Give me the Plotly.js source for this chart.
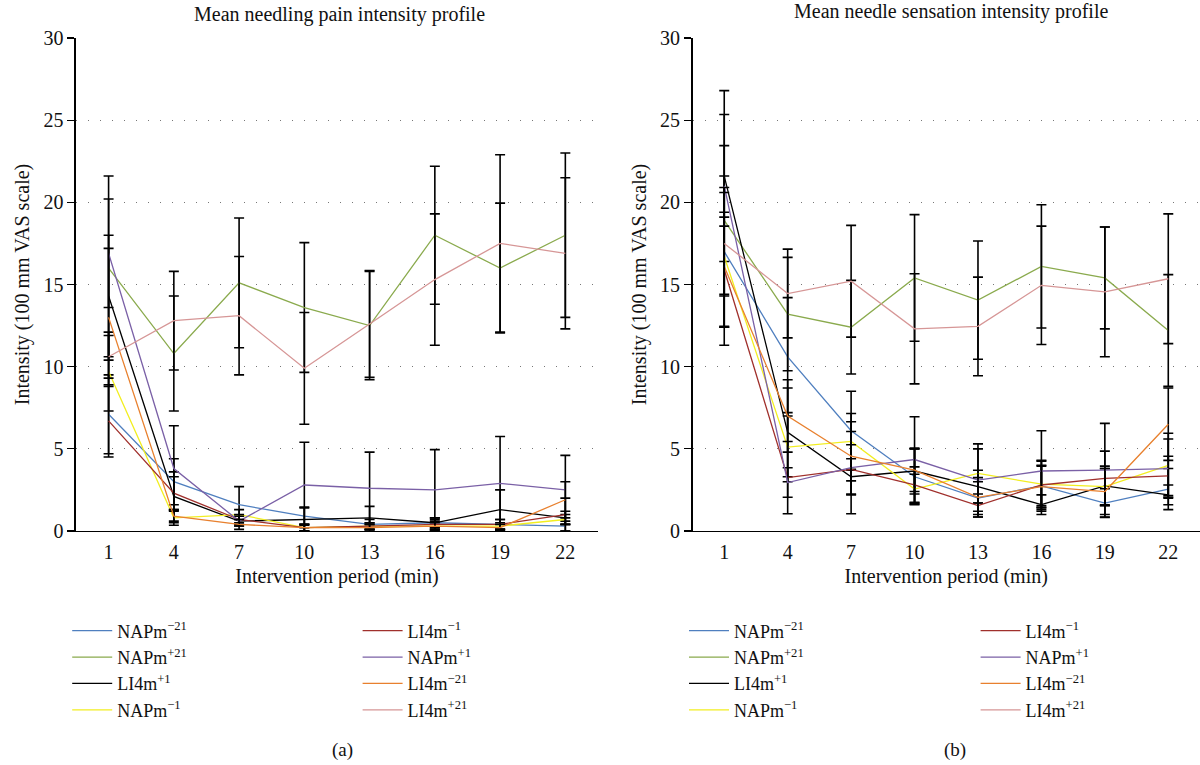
<!DOCTYPE html>
<html>
<head>
<meta charset="utf-8">
<script src="https://cdn.plot.ly/plotly-3.0.1.min.js"></script>
<style>html,body{margin:0;padding:0;background:#fff;}#chart{width:1200px;height:765px;}</style>
</head>
<body>
<div id="chart"></div>
<script>
// ---------- data ----------
const minutes = [1, 4, 7, 10, 13, 16, 19, 22];
const tickLabels = ["1", "4", "7", "10", "13", "16", "19", "22"];

const seriesNames = ["NAPm<sup>−21</sup>", "NAPm<sup>+21</sup>", "LI4m<sup>+1</sup>", "NAPm<sup>−1</sup>",
                     "LI4m<sup>−1</sup>", "NAPm<sup>+1</sup>", "LI4m<sup>−21</sup>", "LI4m<sup>+21</sup>"];
const seriesColors = ["#4f7fbf", "#8aaa4d", "#000000", "#f2ee20", "#a0302c", "#7a60a6", "#e8802e", "#d69696"];

// (a) Mean needling pain intensity
const painNAPm_m21 = [7.1, 3.0, 1.6, 0.9, 0.4, 0.5, 0.4, 0.3];
const painNAPm_p21 = [16.0, 10.8, 15.1, 13.6, 12.5, 18.0, 16.0, 18.0];
const painLI4m_p1  = [14.3, 2.1, 0.6, 0.7, 0.8, 0.5, 1.3, 0.8];
const painNAPm_m1  = [9.7, 0.8, 1.0, 0.2, 0.3, 0.3, 0.3, 0.7];
const painLI4m_m1  = [6.7, 2.3, 0.7, 0.2, 0.3, 0.4, 0.4, 1.0];
const painNAPm_p1  = [16.9, 3.8, 0.6, 2.8, 2.6, 2.5, 2.9, 2.5];
const painLI4m_m21 = [13.0, 0.9, 0.4, 0.2, 0.2, 0.3, 0.2, 1.9];
const painLI4m_p21 = [10.6, 12.8, 13.1, 9.9, 12.6, 15.3, 17.5, 16.9];

const painErrNAPm_m21 = [2.4, 1.4, 1.1, 0.55, 0.3, 0.3, 0.3, 0.3];
const painErrNAPm_p21 = [5.6, 3.5, 3.95, 3.95, 3.3, 4.2, 3.95, 5.0];
const painErrLI4m_p1  = [3.7, 1.5, 0.3, 0.7, 0.7, 0.3, 1.2, 0.4];
const painErrNAPm_m1  = [2.4, 0.45, 0.3, 0.2, 0.2, 0.2, 0.2, 0.3];
const painErrLI4m_m1  = [2.2, 1.0, 0.3, 0.2, 0.2, 0.3, 0.3, 1.0];
const painErrNAPm_p1  = [3.3, 2.6, 0.3, 2.6, 2.2, 2.45, 2.85, 2.1];
const painErrLI4m_m21 = [4.2, 0.4, 0.3, 0.2, 0.2, 0.3, 0.2, 1.1];
const painErrLI4m_p21 = [1.3, 3.0, 3.6, 3.4, 3.25, 4.0, 5.4, 4.6];

// (b) Mean needle sensation intensity
const sensNAPm_m21 = [17.0, 10.6, 6.1, 3.3, 2.0, 2.75, 1.7, 2.55];
const sensNAPm_p21 = [18.9, 13.2, 12.4, 15.4, 14.05, 16.1, 15.4, 12.2];
const sensLI4m_p1  = [21.6, 6.0, 3.3, 3.65, 2.7, 1.6, 2.75, 2.2];
const sensNAPm_m1  = [16.7, 5.1, 5.45, 2.55, 3.5, 2.85, 2.7, 4.0];
const sensLI4m_m1  = [15.9, 3.25, 3.75, 2.8, 1.55, 2.8, 3.2, 3.35];
const sensNAPm_p1  = [21.0, 2.95, 3.85, 4.35, 3.1, 3.65, 3.7, 3.8];
const sensLI4m_m21 = [16.1, 7.0, 4.55, 3.7, 2.05, 2.7, 2.4, 6.5];
const sensLI4m_p21 = [17.5, 14.45, 15.2, 12.3, 12.45, 14.95, 14.55, 15.35];

const sensErrNAPm_m21 = [4.6, 3.6, 2.4, 1.7, 1.0, 1.2, 0.87, 1.25];
const sensErrNAPm_p21 = [6.45, 3.45, 2.85, 3.85, 3.6, 3.75, 3.1, 3.4];
const sensErrLI4m_p1  = [5.2, 2.7, 1.1, 1.4, 1.0, 0.6, 1.2, 0.6];
const sensErrNAPm_m1  = [2.4, 2.1, 1.7, 0.9, 1.8, 1.4, 1.1, 1.95];
const sensErrLI4m_m1  = [3.5, 2.2, 1.5, 1.1, 0.7, 1.5, 1.66, 1.2];
const sensErrNAPm_p1  = [2.45, 0.9, 2.8, 2.6, 1.9, 2.45, 2.85, 1.8];
const sensErrLI4m_m21 = [4.8, 2.2, 1.5, 1.3, 1.2, 1.3, 1.4, 2.2];
const sensErrLI4m_p21 = [3.1, 2.7, 3.4, 3.35, 3.0, 3.6, 3.95, 3.95];

const painSeries = [painNAPm_m21, painNAPm_p21, painLI4m_p1, painNAPm_m1, painLI4m_m1, painNAPm_p1, painLI4m_m21, painLI4m_p21];
const painErrors = [painErrNAPm_m21, painErrNAPm_p21, painErrLI4m_p1, painErrNAPm_m1, painErrLI4m_m1, painErrNAPm_p1, painErrLI4m_m21, painErrLI4m_p21];
const sensSeries = [sensNAPm_m21, sensNAPm_p21, sensLI4m_p1, sensNAPm_m1, sensLI4m_m1, sensNAPm_p1, sensLI4m_m21, sensLI4m_p21];
const sensErrors = [sensErrNAPm_m21, sensErrNAPm_p21, sensErrLI4m_p1, sensErrNAPm_m1, sensErrLI4m_m1, sensErrNAPm_p1, sensErrLI4m_m21, sensErrLI4m_p21];

// ---------- build ----------
const FONT = "Liberation Serif, Times New Roman, serif";
const traces = [];
function addPanel(series, errors, xa, ya, legA, legB) {
  series.forEach((vals, i) => {
    traces.push({
      type: "scatter", mode: "lines",
      x: minutes, y: vals, xaxis: xa, yaxis: ya,
      name: seriesNames[i],
      legend: i < 4 ? legA : legB,
      line: {color: seriesColors[i], width: 1.3},
      error_y: {type: "data", array: errors[i], visible: true, color: "#000", thickness: 1.6, width: 5}
    });
  });
}
addPanel(painSeries, painErrors, "x", "y", "legend", "legend2");
addPanel(sensSeries, sensErrors, "x2", "y2", "legend3", "legend4");

function xAxis(domain, anchor) {
  return {
    domain: domain, anchor: anchor, range: [-0.5, 23.5],
    tickmode: "array", tickvals: minutes, ticktext: tickLabels,
    showline: true, linecolor: "#000", linewidth: 1.5, ticks: "",
    showgrid: false, zeroline: false, ticklabelstandoff: 3,
    tickfont: {family: FONT, size: 20, color: "#111"},
    title: {text: "Intervention period (min)", font: {family: FONT, size: 20, color: "#111"}, standoff: 6}
  };
}
function yAxis(anchor) {
  return {
    domain: [0.3059, 0.9503], anchor: anchor, range: [0, 30],
    tickmode: "array", tickvals: [0, 5, 10, 15, 20, 25, 30],
    showline: true, linecolor: "#000", linewidth: 1.5,
    ticks: "outside", ticklen: 7, tickwidth: 1.3, tickcolor: "#000",
    showgrid: true, gridcolor: "#777", gridwidth: 1, griddash: "1px,11px",
    zeroline: false,
    tickfont: {family: FONT, size: 20, color: "#111"},
    title: {text: "Intensity (100 mm VAS scale)", font: {family: FONT, size: 20, color: "#111"}, standoff: 8}
  };
}

function legendAt(x, y) {
  return {x: x, y: y, xanchor: "left", yanchor: "top", orientation: "v",
          bgcolor: "rgba(0,0,0,0)", borderwidth: 0, tracegroupgap: 0, itemwidth: 40,
          font: {family: FONT, size: 18, color: "#111"}};
}

const layout = {
  width: 1200, height: 765,
  margin: {l: 0, r: 0, t: 0, b: 0},
  paper_bgcolor: "#fff", plot_bgcolor: "#fff",
  showlegend: true,
  xaxis: xAxis([0.0633, 0.4983], "y"),
  yaxis: yAxis("x"),
  xaxis2: xAxis([0.5771, 1.0], "y2"),
  yaxis2: yAxis("x2"),
  legend: legendAt(0.056, 0.1994),
  legend2: legendAt(0.298, 0.1994),
  legend3: legendAt(0.570, 0.1994),
  legend4: legendAt(0.813, 0.1994),
  annotations: [
    {text: "Mean needling pain intensity profile", x: 0.2833, y: 1 - 14/765, xref: "paper", yref: "paper",
     xanchor: "center", yanchor: "middle", showarrow: false, font: {family: FONT, size: 20, color: "#111"}},
    {text: "Mean needle sensation intensity profile", x: 0.7925, y: 1 - 12/765, xref: "paper", yref: "paper",
     xanchor: "center", yanchor: "middle", showarrow: false, font: {family: FONT, size: 20, color: "#111"}},
    {text: "(a)", x: 0.2858, y: 1 - 750/765, xref: "paper", yref: "paper",
     xanchor: "center", yanchor: "middle", showarrow: false, font: {family: FONT, size: 19, color: "#111"}},
    {text: "(b)", x: 0.7958, y: 1 - 750/765, xref: "paper", yref: "paper",
     xanchor: "center", yanchor: "middle", showarrow: false, font: {family: FONT, size: 19, color: "#111"}}
  ]
};

Plotly.newPlot("chart", traces, layout, {staticPlot: true, displayModeBar: false});
</script>
</body>
</html>
